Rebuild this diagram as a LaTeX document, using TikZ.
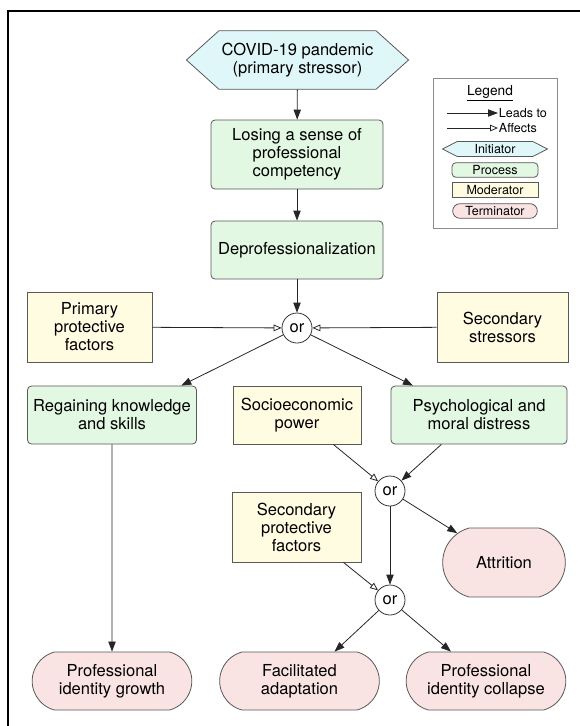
\documentclass[tikz,border=0pt]{standalone}
\usepackage{fontspec}
\setmainfont{TeX Gyre Heros}
\usetikzlibrary{arrows.meta,shapes.symbols,shapes.misc}
\definecolor{initfill}{RGB}{224,247,250}
\definecolor{procfill}{RGB}{226,248,226}
\definecolor{modfill}{RGB}{255,252,226}
\definecolor{termfill}{RGB}{250,227,227}
\definecolor{edgegray}{gray}{0.35}

\begin{document}
\begin{tikzpicture}[x=0.75pt,y=-0.75pt]
	  \tikzstyle{every node} = [font=\fontsize{12.4}{13.5}\selectfont, align=center, inner sep=2pt]
	  \tikzstyle{initiator} = [shape=signal, signal to=east and west, signal pointer angle=84, draw=edgegray, fill=initfill, line width=0.6pt]
	  \tikzstyle{process} = [rectangle, rounded corners=3pt, draw=edgegray, fill=procfill, line width=0.6pt]
	  \tikzstyle{moderator} = [rectangle, draw=edgegray, fill=modfill, line width=0.6pt]
	  \tikzstyle{terminator} = [rounded rectangle, rounded rectangle arc length=150, draw=edgegray, fill=termfill, line width=0.6pt]
	  \tikzstyle{gate} = [circle, draw=black!80, fill=white, minimum size=22.5pt, inner sep=0pt, line width=0.6pt]
	  \tikzstyle{leads} = [-{Triangle[length=7.5pt,width=5.5pt]}, line width=0.6pt, black!85]
	  \tikzstyle{affects} = [-{Triangle[open,length=6pt,width=5pt]}, line width=0.6pt, black!85]
	  \tikzstyle{legendtext} = [font=\fontsize{9.4}{10}\selectfont, inner sep=0.5pt]
	  \useasboundingbox (0,0) rectangle (580,726);
	  \draw[line width=1pt] (8,726) -- (8,11) -- (580,11);
	  % main flow
	  \node (covid)[initiator, minimum width=150.75pt, minimum height=44pt] at (297.5,60) {COVID-19 pandemic\\(primary stressor)};
	  \node (lose)[process, minimum width=129pt, minimum height=51.75pt] at (297,154.5) {Losing a sense of\\professional\\competency};
	  \node (deprof)[process, minimum width=129pt, minimum height=43.5pt] at (297,250) {Deprofessionalization};
	  \node (or1)[gate] at (297,328) {or};
	  \node (prim)[moderator, minimum width=93.75pt, minimum height=52.5pt] at (89.5,327) {Primary\\protective\\factors};
	  \node (sec)[moderator, minimum width=98.25pt, minimum height=52.5pt] at (502.5,327) {Secondary\\stressors};
	  \node (regain)[process, minimum width=126.75pt, minimum height=43.5pt] at (112,415) {Regaining knowledge\\and skills};
	  \node (socio)[moderator, minimum width=96pt, minimum height=43.5pt] at (297,415) {Socioeconomic\\power};
	  \node (psych)[process, minimum width=132pt, minimum height=43.5pt] at (479,415) {Psychological and\\moral distress};
	  \node (or2)[gate] at (390,491) {or};
	  \node (secprot)[moderator, minimum width=96.75pt, minimum height=52.5pt] at (296.5,527) {Secondary\\protective\\factors};
	  \node (attr)[terminator, minimum width=96pt, minimum height=51.75pt] at (504,562.5) {Attrition};
	  \node (or3)[gate] at (390,600) {or};
	  \node (growth)[terminator, minimum width=123.75pt, minimum height=43.5pt] at (112,681) {Professional\\identity growth};
	  \node (facil)[terminator, minimum width=123.75pt, minimum height=43.5pt] at (299.5,681) {Facilitated\\adaptation};
	  \node (collapse)[terminator, minimum width=123.75pt, minimum height=43.5pt] at (486,681) {Professional\\identity collapse};
	  \draw[leads] (covid) -- (lose);
	  \draw[leads] (lose) -- (deprof);
	  \draw[leads] (deprof) -- (or1);
	  \draw[affects] (prim) -- (or1);
	  \draw[affects] (sec) -- (or1);
	  \draw[leads] (or1) -- (regain.23);
	  \draw[leads] (or1) -- (psych.156);
	  \draw[leads] (regain) -- (growth);
	  \draw[affects] (socio.-39) -- (or2);
	  \draw[leads] (psych.218) -- (or2);
	  \draw[leads] (or2) -- (attr);
	  \draw[leads] (or2) -- (or3);
	  \draw[affects] (secprot.-37) -- (or3);
	  \draw[leads] (or3) -- (facil.40);
	  \draw[leads] (or3) -- (collapse.140);
	  % legend
	  \node (legbox)[draw=black!45, fill=white, minimum width=93pt, minimum height=112.5pt] at (495,153) {};
	  \node (legtitle)[font=\fontsize{10.3}{11}\selectfont] at (490,93) {\underline{Legend}};
	  \coordinate (ls1) at (447,113);
	  \coordinate (ls2) at (447,128);
	  \node (leadstxt)[legendtext, anchor=west] at (498,113) {Leads to};
	  \node (affectstxt)[legendtext, anchor=west] at (498,128) {Affects};
	  \draw[leads] (ls1) -- (leadstxt.west);
	  \draw[affects] (ls2) -- (affectstxt.west);
	  \node (leginit)[initiator, legendtext, signal pointer angle=54, minimum width=78.75pt, minimum height=11.25pt] at (495,149) {Initiator};
	  \node (legproc)[process, legendtext, minimum width=64.5pt, minimum height=11pt] at (495,170) {Process};
	  \node (legmod)[moderator, legendtext, minimum width=64.5pt, minimum height=11pt] at (495,190) {Moderator};
	  \node (legterm)[terminator, legendtext, rounded rectangle arc length=180, minimum width=64.5pt, minimum height=11pt] at (495,211) {Terminator};
\end{tikzpicture}
\end{document}
